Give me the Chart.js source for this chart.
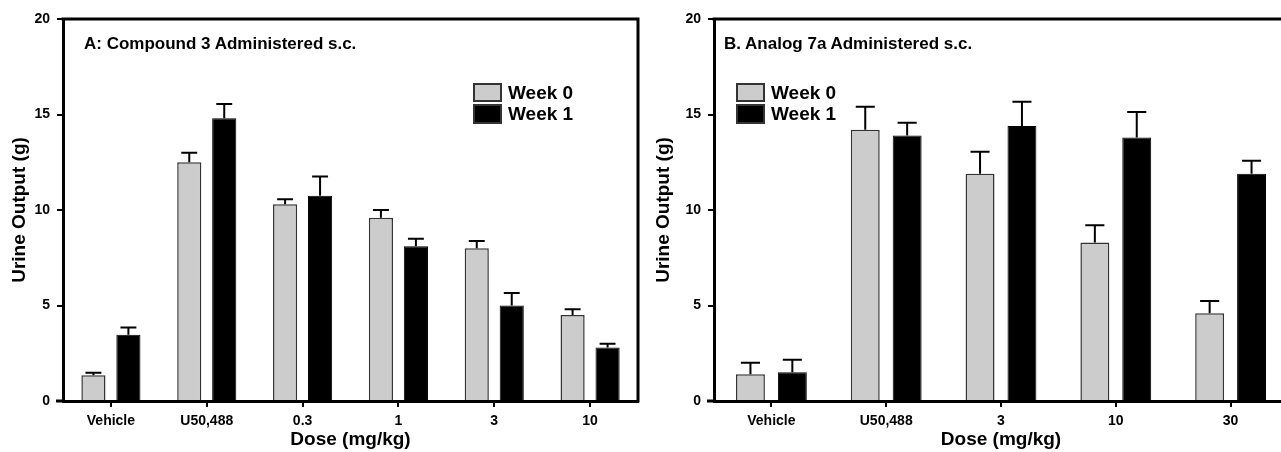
<!DOCTYPE html>
<html>
<head>
<meta charset="utf-8">
<script src="https://cdn.jsdelivr.net/npm/chart.js@4.4.0/dist/chart.umd.min.js"></script>
<style>
  html, body { margin: 0; padding: 0; background: #fff; overflow: hidden; }
  #pagina { position: relative; width: 1281px; height: 452px; overflow: hidden; font-family: "Liberation Sans", Arial, sans-serif; }
  canvas { position: absolute; top: 0; }
  .titulo { position: absolute; font-weight: bold; font-size: 17px; line-height: 20px; color: #000; white-space: nowrap; }
  .caja { position: absolute; box-sizing: border-box; border: 2px solid #333; }
  .texto { position: absolute; font-weight: bold; font-size: 19px; line-height: 20px; color: #000; white-space: nowrap; }
</style>
</head>
<body>
<div id="pagina">
  <canvas id="graficaA" width="650" height="452" style="left:0"></canvas>
  <canvas id="graficaB" width="660" height="452" style="left:640px"></canvas>

  <div class="titulo" style="left:84px; top:34px">A: Compound 3 Administered s.c.</div>
  <div class="caja" style="left:473px; top:83px; width:29px; height:19px; background:#cccccc"></div>
  <div class="caja" style="left:473px; top:104px; width:29px; height:20px; background:#000"></div>
  <div class="texto" style="left:508px; top:83px">Week 0</div>
  <div class="texto" style="left:508px; top:104px">Week 1</div>

  <div class="titulo" style="left:724px; top:34px">B. Analog 7a Administered s.c.</div>
  <div class="caja" style="left:736px; top:83px; width:29px; height:19px; background:#cccccc"></div>
  <div class="caja" style="left:736px; top:104px; width:29px; height:20px; background:#000"></div>
  <div class="texto" style="left:771px; top:83px">Week 0</div>
  <div class="texto" style="left:771px; top:104px">Week 1</div>
</div>
<script>
// Panel A: compuesto 3
const dosisA = ["Vehicle", "U50,488", "0.3", "1", "3", "10"];
const semana0A = [1.35, 12.5, 10.3, 9.6, 8.0, 4.5];
const errSemana0A = [0.13, 0.5, 0.26, 0.4, 0.38, 0.3];
const semana1A = [3.47, 14.8, 10.75, 8.1, 5.0, 2.8];
const errSemana1A = [0.38, 0.75, 1.0, 0.4, 0.65, 0.2];

// Panel B: analogo 7a
const dosisB = ["Vehicle", "U50,488", "3", "10", "30"];
const semana0B = [1.4, 14.2, 11.9, 8.3, 4.6];
const errSemana0B = [0.6, 1.2, 1.15, 0.9, 0.63];
const semana1B = [1.5, 13.9, 14.4, 13.8, 11.9];
const errSemana1B = [0.66, 0.67, 1.27, 1.33, 0.68];

const ticksY = [0, 5, 10, 15, 20];

const fuente = "'Liberation Sans', Arial, sans-serif";

// barras de error (solo hacia arriba)
const barrasError = {
  id: "barrasError",
  afterDatasetsDraw(chart) {
    const ctx = chart.ctx;
    const y = chart.scales.y;
    chart.data.datasets.forEach((ds, i) => {
      const meta = chart.getDatasetMeta(i);
      meta.data.forEach((bar, j) => {
        const tope = y.getPixelForValue(ds.data[j] + ds.errores[j]);
        const cap = bar.width * 0.33;
        ctx.save();
        ctx.strokeStyle = "#000";
        ctx.lineWidth = 2;
        ctx.beginPath();
        ctx.moveTo(bar.x, bar.y);
        ctx.lineTo(bar.x, tope);
        ctx.moveTo(bar.x - cap, tope);
        ctx.lineTo(bar.x + cap, tope);
        ctx.stroke();
        ctx.restore();
      });
    });
  }
};

// marco superior y derecho, y el eje x un poco mas alla del eje y
const marco = {
  id: "marco",
  afterDraw(chart) {
    const { ctx, chartArea: a } = chart;
    ctx.save();
    ctx.strokeStyle = "#000";
    ctx.lineWidth = 3;
    ctx.beginPath();
    ctx.moveTo(a.left - 1.5, a.top);
    ctx.lineTo(a.right, a.top);
    ctx.lineTo(a.right, a.bottom + 1.5);
    ctx.moveTo(a.left - 7, a.bottom);
    ctx.lineTo(a.left, a.bottom);
    ctx.stroke();
    ctx.restore();
  }
};

function crearGrafica(id, etiquetas, s0, e0, s1, e1, anchoEjeY, padTitulo) {
  new Chart(document.getElementById(id), {
    type: "bar",
    data: {
      labels: etiquetas,
      datasets: [
        { label: "Week 0", data: s0, errores: e0, backgroundColor: "#cccccc", borderColor: "#333", borderWidth: 1.5 },
        { label: "Week 1", data: s1, errores: e1, backgroundColor: "#000", borderColor: "#000", borderWidth: 1 }
      ]
    },
    options: {
      responsive: false,
      animation: false,
      devicePixelRatio: 1,
      categoryPercentage: 0.73,
      barPercentage: 0.69,
      layout: { padding: { top: 19, right: 12, bottom: 1, left: 0 } },
      plugins: { legend: { display: false }, tooltip: { enabled: false } },
      scales: {
        x: {
          afterFit: s => { s.height = 50; },
          grid: { offset: false, drawOnChartArea: false, tickLength: 6, lineWidth: 2, color: "#000" },
          border: { display: true, color: "#000", width: 3 },
          ticks: { color: "#000", padding: 6, font: { family: fuente, size: 14, weight: "bold" } },
          title: { display: true, text: "Dose (mg/kg)", color: "#000", padding: 0, font: { family: fuente, size: 19, weight: "bold" } }
        },
        y: {
          min: 0,
          max: 20,
          afterFit: s => { s.width = anchoEjeY; },
          afterBuildTicks: s => { s.ticks = ticksY.map(v => ({ value: v })); },
          grid: { drawOnChartArea: false, tickLength: 6, lineWidth: 2, color: "#000" },
          border: { display: true, color: "#000", width: 3 },
          ticks: { color: "#000", padding: 7, font: { family: fuente, size: 14, weight: "bold" } },
          title: { display: true, text: "Urine Output (g)", color: "#000", padding: { top: padTitulo, bottom: 0 }, font: { family: fuente, size: 19, weight: "bold" } }
        }
      }
    },
    plugins: [barrasError, marco]
  });
}

crearGrafica("graficaA", dosisA, semana0A, errSemana0A, semana1A, errSemana1A, 63, 8);
crearGrafica("graficaB", dosisB, semana0B, errSemana0B, semana1B, errSemana1B, 74, 12);
</script>
</body>
</html>
